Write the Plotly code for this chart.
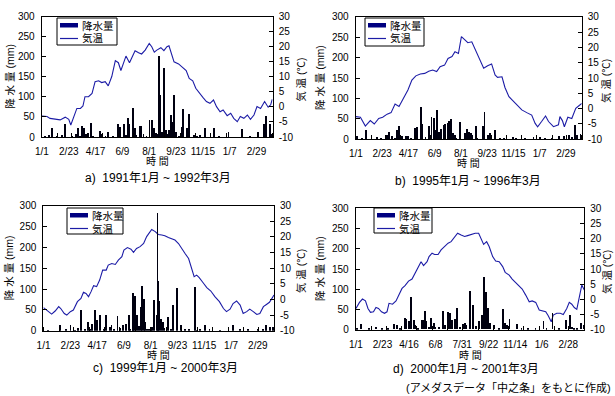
import datetime as dt
import plotly.graph_objects as go

# ---------------- data (day index from Jan 1 of first year) ----------------
labels_abc = ["1/1", "2/23", "4/17", "6/9", "8/1", "9/23", "11/15", "1/7", "2/29"]
labels_d = ["1/1", "2/23", "4/16", "6/8", "7/31", "9/22", "11/14", "1/6", "2/28"]
tick_days = [0, 53, 106, 159, 212, 265, 318, 371, 424]
mm_ticks = [0, 50, 100, 150, 200, 250, 300]
temp_ticks = [-10, -5, 0, 5, 10, 15, 20, 25, 30]
temp_tick_text = ["-10", "-5", "0", "5", "10", "15", "20", "25", "30"]
legend_names = ["降水量", "気温"]

titles = ["a)  1991年1月 ~ 1992年3月", "b)  1995年1月 ~ 1996年3月",
          "c)  1999年1月 ~ 2000年3月", "d)  2000年1月 ~ 2001年3月"]
start_years = [1991, 1995, 1999, 2000]

temp_days_a = [0, 10, 16, 26, 36, 46, 53, 57, 62, 69, 76, 81, 85, 92, 99, 105, 112, 118, 125, 131,
               138, 145, 151, 156, 161, 166, 173, 178, 184, 191, 197, 204, 212, 217, 222, 227, 235,
               241, 247, 251, 256, 261, 270, 278, 285, 291, 298, 304, 311, 318, 325, 332, 339, 345,
               352, 358, 366, 373, 379, 386, 392, 399, 406, 412, 419, 425, 432, 440, 447, 452, 455]
temp_vals_a = [-3.0, -3.2, -3.8, -4.0, -4.3, -3.4, -4.1, -6.0, -3.8, -0.5, -0.5, 0.3, 3.4, 3.4, 4.5,
               8.4, 8.7, 8.1, 8.4, 7.0, 10.1, 15.4, 14.7, 12.1, 14.5, 16.9, 14.7, 16.7, 18.7, 18.0,
               17.6, 18.9, 21.1, 20.0, 18.2, 18.9, 19.7, 18.7, 20.0, 20.3, 18.0, 15.0, 14.3, 13.2,
               12.1, 9.5, 8.7, 6.2, 4.5, 3.2, 1.8, 1.2, 2.3, 0.1, -1.6, -1.0, -2.9, -2.1, -3.8, -4.9,
               -3.2, -3.8, -2.7, -4.1, -2.7, 0.1, -0.5, 1.8, -0.1, 0.7, 2.5]
rain_days_a = [13, 20, 39, 45, 66, 70, 79, 82, 87, 90, 97, 114, 117, 130, 150, 153, 162, 170, 172,
               180, 183, 193, 196, 200, 212, 217, 220, 224, 230, 232, 241, 245, 250, 254, 258, 260,
               264, 276, 279, 286, 290, 299, 311, 322, 339, 368, 395, 427, 439, 442, 450, 454,
               5, 30, 58, 75, 101, 125, 140, 165, 186, 206, 226, 236, 248, 270, 305, 350, 410]
rain_vals_a = [5, 22, 5, 34, 9, 22, 27, 22, 9, 11, 36, 16, 9, 12, 34, 26, 32, 49, 34,
               74, 22, 27, 28, 9, 42, 42, 22, 11, 204, 105, 173, 19, 17, 55, 38, 106,
               13, 26, 70, 22, 57, 5, 5, 22, 22, 13, 20, 13, 32, 53, 32, 9,
               2, 3, 2, 4, 3, 2, 4, 5, 6, 4, 8, 12, 7, 3, 2, 2, 3]

temp_days_b = [0, 9, 19, 29, 37, 46, 54, 63, 71, 79, 87, 96, 105, 113, 121, 130, 139, 147, 155,
               163, 170, 179, 186, 194, 200, 207, 213, 219, 226, 234, 242, 251, 258, 266, 274, 281,
               286, 295, 301, 309, 318, 327, 335, 345, 355, 362, 367, 375, 383, 389, 399, 409, 412,
               417, 421, 428, 436, 444, 451, 456]
temp_vals_b = [-2.6, -2.8, -5.7, -3.9, -5.0, -3.2, -2.8, -1.8, -1.3, 1.5, 0.7, 3.4, 6.1, 9.3, 10.7,
               11.3, 11.5, 12.2, 12.6, 12.1, 13.7, 14.2, 16.4, 17.0, 18.6, 18.0, 23.5, 22.6, 21.5,
               21.8, 19.1, 15.9, 13.2, 14.0, 14.6, 11.0, 10.2, 10.4, 6.9, 3.9, 2.3, 0.9, -0.4, -1.3,
               -2.1, -4.8, -5.9, -4.2, -2.4, -4.2, -5.9, -5.3, -2.6, -3.9, -5.9, -2.8, -3.2, 0.1,
               0.9, 1.7]
rain_days_b = [2, 20, 42, 59, 63, 67, 73, 83, 87, 93, 100, 105, 118, 122, 130, 133, 147, 152, 157,
               159, 163, 168, 172, 177, 180, 186, 188, 192, 195, 199, 210, 219, 224, 227, 231, 234,
               241, 256, 259, 266, 271, 280, 298, 316, 323, 358, 372, 382, 410, 419, 429, 436, 441,
               446, 453, 12, 50, 78, 110, 140, 202, 245, 290, 340, 395]
rain_vals_b = [8, 23, 7, 8, 11, 19, 8, 23, 33, 8, 8, 8, 29, 31, 80, 39, 33, 55, 54,
               23, 73, 19, 27, 35, 37, 41, 46, 51, 15, 11, 43, 16, 27, 19, 15, 11,
               33, 33, 68, 11, 15, 24, 4, 7, 4, 7, 7, 5, 8, 8, 11, 7, 35,
               11, 13, 3, 2, 4, 3, 6, 5, 3, 2, 2, 3]

temp_days_c = [0, 8, 16, 23, 30, 34, 41, 46, 53, 59, 67, 74, 79, 84, 89, 94, 99, 105, 111, 117, 124,
               128, 135, 142, 148, 155, 159, 166, 173, 178, 184, 191, 198, 204, 211, 214, 221, 227,
               234, 240, 247, 254, 260, 267, 273, 280, 287, 293, 298, 303, 308, 315, 323, 331, 339,
               348, 356, 362, 369, 375, 382, 389, 395, 402, 408, 415, 422, 428, 435, 441, 447, 451,
               456]
temp_vals_c = [-2.6, -3.7, -4.7, -3.7, -2.3, -2.9, -4.5, -5.0, -3.9, -3.4, -0.7, 0.3, 2.3, 1.9, 0.9,
               2.5, 4.4, 4.1, 6.2, 9.4, 9.4, 11.0, 11.5, 11.2, 12.6, 13.7, 15.8, 16.6, 16.1, 15.1,
               16.3, 16.9, 17.9, 20.1, 21.9, 22.4, 21.7, 20.8, 20.6, 20.4, 19.8, 19.5, 19.0, 17.9,
               16.3, 14.7, 13.1, 10.2, 7.3, 7.8, 7.0, 5.5, 3.8, 2.7, 0.9, -0.7, -2.9, -3.9, -3.1,
               -1.3, -0.5, -1.8, -4.5, -3.9, -3.1, -3.9, -4.8, -4.5, -2.3, -1.6, -0.9, 0.1, 1.4]
rain_days_c = [34, 54, 69, 74, 82, 89, 96, 102, 107, 113, 124, 132, 135, 147, 158, 163, 169, 177,
               178, 181, 186, 193, 196, 199, 202, 209, 216, 219, 224, 226, 227, 229, 233, 237, 246,
               257, 264, 273, 289, 300, 310, 320, 329, 375, 405, 425, 441, 449, 455,
               10, 45, 62, 92, 120, 140, 152, 172, 190, 206, 213, 240, 252, 280, 305, 350, 390, 435]
rain_vals_c = [15, 14, 7, 50, 6, 22, 18, 50, 26, 38, 38, 10, 14, 36, 14, 18, 39, 14,
               92, 84, 39, 58, 108, 76, 22, 6, 10, 74, 38, 284, 119, 73, 28, 22, 34,
               63, 104, 14, 6, 106, 4, 14, 6, 14, 6, 6, 15, 10, 10,
               2, 3, 2, 4, 5, 6, 8, 4, 12, 5, 9, 7, 5, 3, 2, 2, 3, 4]

temp_days_d = [0, 7, 13, 19, 24, 29, 35, 40, 45, 51, 57, 62, 66, 73, 80, 85, 92, 98, 105, 112, 118,
               125, 130, 135, 142, 146, 152, 157, 164, 170, 177, 184, 190, 197, 203, 210, 217, 223,
               230, 238, 245, 250, 255, 261, 266, 273, 279, 286, 293, 298, 306, 312, 319, 326, 332,
               339, 346, 352, 359, 366, 372, 379, 384, 390, 394, 401, 408, 414, 421, 426, 431, 436,
               441, 445, 451, 456]
temp_vals_d = [-3.0, -1.0, 0.1, -0.5, -3.0, -4.3, -4.1, -2.7, -3.0, -4.1, -4.6, -4.1, -1.3, -1.6,
               -0.5, 1.4, 3.6, 4.5, 6.0, 6.7, 8.6, 11.3, 12.4, 11.1, 12.4, 14.1, 15.2, 14.8, 14.8,
               16.3, 17.4, 18.5, 19.0, 20.7, 21.8, 21.2, 20.7, 21.0, 21.4, 21.8, 21.8, 20.1, 18.1,
               19.0, 17.4, 14.1, 12.6, 12.4, 10.8, 8.9, 8.0, 6.7, 5.6, 4.5, 3.4, 1.4, -0.8, -0.5,
               -1.0, -3.5, -3.8, -4.1, -5.4, -7.4, -5.2, -4.6, -4.6, -5.0, -3.0, -1.0, -1.6, -2.7,
               -3.3, 0.3, 4.7, 3.1]
rain_days_d = [2, 10, 39, 64, 75, 82, 88, 97, 100, 105, 110, 115, 118, 132, 135, 137, 140, 150,
               155, 158, 173, 178, 184, 188, 191, 197, 201, 208, 213, 217, 219, 228, 233, 245, 251,
               255, 259, 263, 267, 275, 293, 297, 301, 306, 321, 343, 358, 374, 392, 419, 426, 431,
               434, 449, 454, 25, 52, 123, 145, 165, 240, 285, 330, 380, 405, 440]
rain_vals_d = [3, 13, 5, 3, 13, 10, 3, 28, 26, 21, 79, 23, 12, 24, 24, 45, 20, 28,
               16, 7, 46, 12, 44, 40, 24, 26, 54, 7, 13, 16, 12, 96, 61, 20, 36,
               129, 92, 53, 16, 12, 50, 16, 10, 26, 13, 3, 2, 20, 40, 24, 36, 7,
               3, 16, 12, 2, 3, 4, 6, 5, 8, 3, 2, 2, 3, 4]

panels = [
    (temp_days_a, temp_vals_a, rain_days_a, rain_vals_a, labels_abc),
    (temp_days_b, temp_vals_b, rain_days_b, rain_vals_b, labels_abc),
    (temp_days_c, temp_vals_c, rain_days_c, rain_vals_c, labels_abc),
    (temp_days_d, temp_vals_d, rain_days_d, rain_vals_d, labels_d),
]

# ---------------- layout geometry (pixels of a 615x396 page) ----------------
W, H = 615, 396
boxes = [  # left, right, top, bottom of plot areas
    (41.7, 272.7, 16.7, 137.0),
    (355.7, 581.7, 16.7, 139.3),
    (43.3, 274.0, 205.7, 330.7),
    (355.7, 584.3, 208.3, 329.7),
]
legend_boxes = [(57, 18, 117, 45), (365, 18, 424, 46), (67, 208, 123, 234), (374, 208, 432, 233)]
ytitle_left_x = [10, 320, 9, 320]
ytitle_right_x = [301, 606, 301, 607]
xtitle_y = [161.5, 163.5, 355.5, 355]
sub_pos = [(158, 178), (468, 181), (165, 368), (466, 369)]

FONT = "Liberation Sans, Arial, Noto Sans CJK JP"
BAR_C = "#000010"
LINE_C = "#1c1ca6"
LEG_C = "#000080"


def px_x(p):
    return p / W


def px_y(p):
    return 1 - p / H


def label(text, x, y, size=10.5, angle=0, xanchor="center"):
    return dict(text=text, x=px_x(x), y=px_y(y), xref="paper", yref="paper",
                showarrow=False, textangle=angle, xanchor=xanchor, yanchor="middle",
                font=dict(family=FONT, size=size, color="black"))


fig = go.Figure()
annotations = []
shapes = []
layout = {}

for k, (td, tv, rd, rv, labs) in enumerate(panels):
    n = k + 1
    xa = "x" if n == 1 else f"x{n}"
    yt = f"y{2 * n - 1}" if n > 1 else "y"
    ym = f"y{2 * n}"
    l, r, t, b = boxes[k]

    fig.add_trace(go.Scatter(x=td, y=tv, mode="lines", line=dict(color=LINE_C, width=1.1),
                             xaxis=xa, yaxis=yt, showlegend=False, hoverinfo="skip",
                             name=legend_names[1]))
    fig.add_trace(go.Bar(x=rd, y=rv, width=1.8, marker=dict(color=BAR_C, line=dict(width=0)),
                         xaxis=xa, yaxis=ym, showlegend=False, name=legend_names[0]))

    y0 = start_years[k]
    base = dt.date(y0, 1, 1)
    months = []
    for i in range(16):
        yy = y0 + i // 12
        mm = i % 12 + 1
        months.append((dt.date(yy, mm, 1) - base).days)

    xkey = "xaxis" if n == 1 else f"xaxis{n}"
    layout[xkey] = dict(
        domain=[px_x(l), px_x(r)], anchor=yt, range=[-0.5, 456],
        tickmode="array", tickvals=tick_days, ticktext=labs, ticks="",
        minor=dict(tickmode="array", tickvals=months, ticks="inside", ticklen=4,
                   tickcolor="black"),
        showline=True, linecolor="black", linewidth=1, mirror=True,
        showgrid=False, zeroline=False, automargin=False,
        tickfont=dict(family=FONT, size=10, color="black"), ticklabelstandoff=5,
    )
    ytkey = "yaxis" if n == 1 else f"yaxis{2 * n - 1}"
    layout[ytkey] = dict(
        domain=[px_y(b), px_y(t)], anchor=xa, side="right", range=[-10, 30],
        tickmode="array", tickvals=temp_ticks, ticktext=temp_tick_text,
        ticks="inside", ticklen=4, tickcolor="black",
        showline=True, linecolor="black", linewidth=1,
        showgrid=False, zeroline=False, automargin=False,
        tickfont=dict(family=FONT, size=10, color="black"), ticklabelstandoff=3,
    )
    layout[f"yaxis{2 * n}"] = dict(
        overlaying=yt, anchor=xa, side="left", range=[0, 300],
        tickmode="array", tickvals=mm_ticks,
        ticks="inside", ticklen=4, tickcolor="black",
        showline=True, linecolor="black", linewidth=1,
        showgrid=False, zeroline=False, automargin=False,
        tickfont=dict(family=FONT, size=10, color="black"), ticklabelstandoff=4,
    )

    # legend drawn as a framed box
    bx0, by0, bx1, by1 = legend_boxes[k]
    shapes.append(dict(type="rect", xref="paper", yref="paper",
                       x0=px_x(bx0), x1=px_x(bx1), y0=px_y(by1), y1=px_y(by0),
                       line=dict(color="black", width=1), fillcolor="white", layer="above"))
    shapes.append(dict(type="rect", xref="paper", yref="paper",
                       x0=px_x(bx0 + 3), x1=px_x(bx0 + 21), y0=px_y(by0 + 9.5), y1=px_y(by0 + 5),
                       line=dict(width=0), fillcolor=LEG_C, layer="above"))
    shapes.append(dict(type="line", xref="paper", yref="paper",
                       x0=px_x(bx0 + 3), x1=px_x(bx0 + 21), y0=px_y(by0 + 20.5),
                       y1=px_y(by0 + 20.5), line=dict(color=LINE_C, width=1.2), layer="above"))
    for j, yy in enumerate([by0 + 7.5, by0 + 20.5]):
        annotations.append(label(legend_names[j], bx0 + 22.5, yy, xanchor="left"))

    cy = (t + b) / 2
    annotations.append(label("降 水 量 (mm)", ytitle_left_x[k], cy, angle=-90))
    annotations.append(label("気 温 (℃)", ytitle_right_x[k], cy + 3, angle=-90))
    annotations.append(label("時 間", (l + r) / 2, xtitle_y[k], size=10))
    sx, sy = sub_pos[k]
    annotations.append(label(titles[k], sx, sy, size=12))

annotations.append(label("(アメダスデータ「中之条」をもとに作成)", 613, 387, size=11,
                         xanchor="right"))

fig.update_layout(
    width=W, height=H, margin=dict(l=0, r=0, t=0, b=0),
    paper_bgcolor="white", plot_bgcolor="white", showlegend=False,
    barmode="overlay", bargap=0, annotations=annotations, shapes=shapes, **layout,
)

fig.write_html("out.html", config={"displayModeBar": False},
               post_script="document.body.style.margin='0px';"
               "document.body.style.overflow='hidden';")
